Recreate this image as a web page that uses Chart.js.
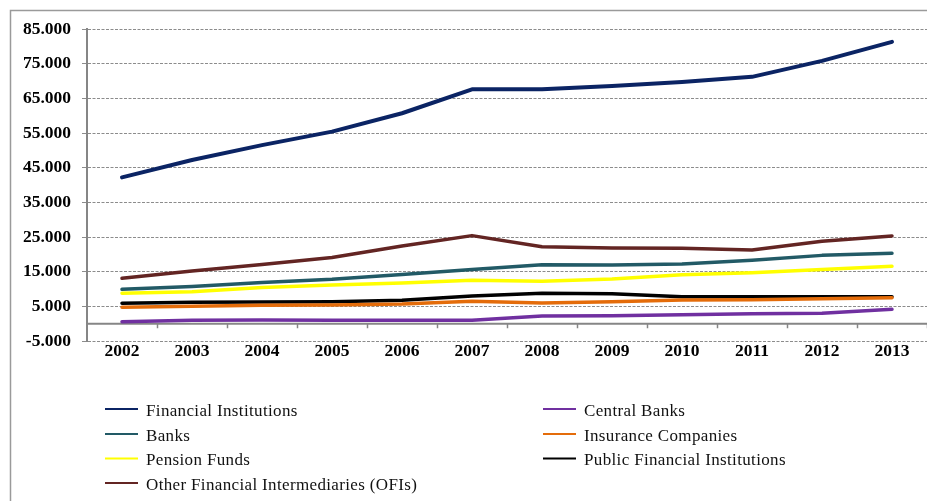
<!DOCTYPE html>
<html>
<head>
<meta charset="utf-8">
<script src="https://cdn.jsdelivr.net/npm/chart.js@4/dist/chart.umd.min.js"></script>
<style>
  html, body { margin: 0; padding: 0; background: #fff; }
  #wrap { position: relative; width: 927px; height: 501px; }
</style>
</head>
<body>
<div id="wrap"><canvas id="c" width="927" height="501"></canvas></div>
<script>
// Years on the horizontal axis
const years = ['2002','2003','2004','2005','2006','2007','2008','2009','2010','2011','2012','2013'];

// Series values
const financialInstitutions = [42200, 47200, 51500, 55400, 60700, 67600, 67600, 68550, 69700, 71200, 75800, 81300];
const centralBanks          = [580, 980, 1070, 980, 980, 980, 2220, 2310, 2600, 2880, 3000, 4150];
const banks                 = [9900, 10700, 11900, 12800, 14200, 15600, 17000, 16900, 17200, 18300, 19700, 20300];
const insuranceCompanies    = [4730, 5020, 5310, 5390, 5680, 6460, 5970, 6350, 6840, 6920, 7210, 7500];
const pensionFunds          = [8770, 9230, 10400, 11150, 11750, 12500, 12250, 12900, 14100, 14700, 15600, 16550];
const publicFinancial       = [5880, 6170, 6260, 6350, 6750, 7990, 8770, 8650, 7790, 7790, 7790, 7790];
const otherIntermediaries   = [13100, 15200, 17100, 19100, 22400, 25400, 22200, 21800, 21750, 21250, 23750, 25300];

// Value axis range
const yMin = -5000, yMax = 85000, yStep = 10000;

function fmtThousands(v) {
  const s = Math.abs(Math.round(v)).toString().replace(/\B(?=(\d{3})+(?!\d))/g, '.');
  return (v < 0 ? '-' : '') + s;
}

function series(label, data, color, width) {
  return {
    label, data,
    borderColor: color, backgroundColor: color,
    borderWidth: width || 3.5,
    pointRadius: 0, pointHoverRadius: 0,
    tension: 0, fill: false,
    borderCapStyle: 'round', borderJoinStyle: 'round'
  };
}

const AXIS_GREY = '#868686';
const SERIF = '"Liberation Serif", "Times New Roman", serif';

// Outer frame, zero baseline with category ticks, and two-column legend
const decorations = {
  id: 'decorations',
  beforeDraw(chart) {
    const ctx = chart.ctx;
    ctx.save();
    ctx.strokeStyle = '#9a9a9a';
    ctx.lineWidth = 1.5;
    ctx.beginPath();
    ctx.moveTo(10.5, 501);
    ctx.lineTo(10.5, 10.5);
    ctx.lineTo(927, 10.5);
    ctx.stroke();
    ctx.restore();
  },
  beforeDatasetsDraw(chart) {
    const ctx = chart.ctx;
    const ys = chart.scales.y;
    const y0 = ys.getPixelForValue(0);
    const area = chart.chartArea;
    ctx.save();
    ctx.strokeStyle = AXIS_GREY;
    ctx.lineWidth = 2;
    ctx.beginPath();
    ctx.moveTo(area.left, y0);
    ctx.lineTo(area.right, y0);
    ctx.stroke();
    ctx.lineWidth = 1.5;
    const n = chart.data.labels.length;
    const w = (area.right - area.left) / n;
    ctx.beginPath();
    for (let i = 1; i <= n; i++) {
      const x = Math.round(area.left + i * w) + 0.5;
      ctx.moveTo(x, y0);
      ctx.lineTo(x, y0 + 4.5);
    }
    ctx.stroke();
    ctx.restore();
  },
  afterDraw(chart) {
    const ctx = chart.ctx;
    const cols = [{ lx: 105, tx: 146 }, { lx: 543, tx: 584 }];
    const rowY = [410, 435, 459.5, 484];
    ctx.save();
    ctx.font = '17px ' + SERIF;
    if ('letterSpacing' in ctx) ctx.letterSpacing = '0.35px';
    ctx.textBaseline = 'middle';
    ctx.textAlign = 'left';
    chart.data.datasets.forEach((ds, i) => {
      const c = cols[i % 2];
      const y = rowY[Math.floor(i / 2)];
      ctx.strokeStyle = ds.borderColor;
      ctx.lineWidth = 2.2;
      ctx.beginPath();
      ctx.moveTo(c.lx, y - 1);
      ctx.lineTo(c.lx + 33, y - 1);
      ctx.stroke();
      ctx.fillStyle = '#111';
      ctx.fillText(ds.label, c.tx, y + 1.5);
    });
    ctx.restore();
  }
};

new Chart(document.getElementById('c'), {
  type: 'line',
  data: {
    labels: years,
    datasets: [
      series('Financial Institutions', financialInstitutions, '#0b2464', 4),
      series('Central Banks', centralBanks, '#7030a0'),
      series('Banks', banks, '#225a66'),
      series('Insurance Companies', insuranceCompanies, '#e46c0a'),
      series('Pension Funds', pensionFunds, '#ffff00'),
      series('Public Financial Institutions', publicFinancial, '#000000'),
      series('Other Financial Intermediaries (OFIs)', otherIntermediaries, '#632523')
    ]
  },
  options: {
    responsive: false,
    animation: false,
    events: [],
    layout: { padding: { left: 0, right: 0, top: 29, bottom: 130 } },
    plugins: { legend: { display: false }, tooltip: { enabled: false } },
    scales: {
      x: {
        offset: true,
        grid: { display: false, drawTicks: false },
        border: { display: false },
        ticks: {
          padding: 0,
          color: '#000',
          font: { family: SERIF, size: 17.5, weight: 'bold' },
          maxRotation: 0
        },
        afterFit(scale) { scale.height = 30; }
      },
      y: {
        min: yMin, max: yMax,
        grid: {
          color: ctx => (ctx.tick && ctx.tick.value === 0) ? 'rgba(0,0,0,0)' : '#8c8c8c',
          lineWidth: 1,
          drawTicks: true,
          tickLength: 5,
          tickColor: '#8c8c8c'
        },
        border: { display: true, color: AXIS_GREY, width: 2, dash: [3, 1.5] },
        ticks: {
          stepSize: yStep,
          padding: 11,
          color: '#000',
          font: { family: SERIF, size: 17.5, weight: 'bold' },
          callback: v => fmtThousands(v)
        },
        afterFit(scale) { scale.width = 87; }
      }
    }
  },
  plugins: [decorations]
});
</script>
</body>
</html>
